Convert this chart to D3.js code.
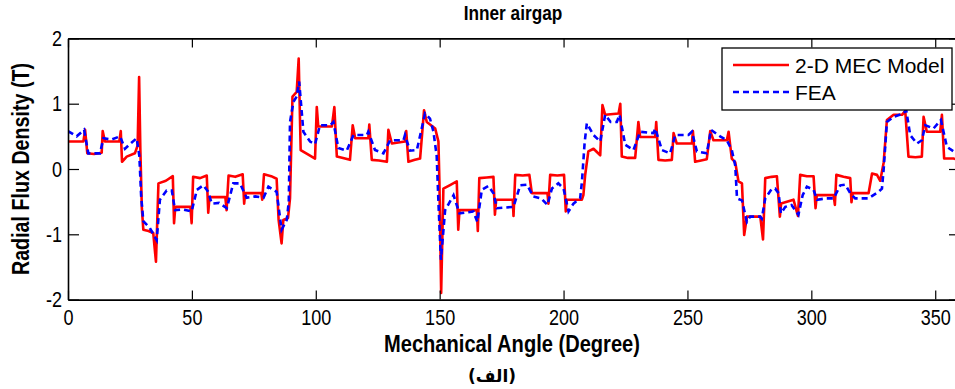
<!DOCTYPE html>
<html>
<head>
<meta charset="utf-8">
<script src="https://cdn.jsdelivr.net/npm/d3@7/dist/d3.min.js"></script>
<style>
  html, body { margin: 0; padding: 0; background: #fff; }
  svg { display: block; }
  .narrow { font-family: "Liberation Sans", Arial, sans-serif; }
</style>
</head>
<body>
<svg id="chart" width="955" height="389"></svg>
<script>
// Radial flux density along the inner airgap: analytical MEC model vs. FEA
const mecAngle = [0, 6.2, 6.9, 7.8, 10.5, 13.6, 14.0, 14.9, 20.7, 21.3, 21.8, 23.7, 27.0, 28.1, 28.7, 29.2, 29.8, 30.4, 32.5, 34.4, 35.5, 36.5, 39.5, 42.3, 42.8, 43.3, 49.4, 49.9, 50.5, 53.3, 56.0, 56.6, 57.1, 63.5, 64.0, 64.8, 67.5, 70.5, 71.1, 71.5, 78.0, 78.4, 79.1, 82.0, 84.2, 85.0, 86.2, 86.9, 88.8, 89.6, 90.6, 92.3, 93.1, 93.9, 97.0, 99.7, 100.4, 101.0, 106.5, 107.5, 108.5, 111.0, 113.8, 114.9, 115.9, 121.2, 121.6, 122.6, 125.5, 128.7, 129.3, 130.7, 136.0, 136.5, 137.4, 140.0, 142.1, 143.7, 144.8, 148.2, 149.5, 149.9, 150.6, 151.5, 154.0, 156.9, 157.5, 158.0, 165.0, 165.4, 166.0, 169.0, 171.7, 172.3, 172.8, 179.5, 179.8, 180.5, 183.5, 186.2, 187.2, 193.5, 193.9, 194.6, 197.5, 200.2, 200.9, 201.3, 207.4, 208.0, 208.7, 210.0, 212.1, 214.8, 215.7, 216.8, 222.2, 222.9, 223.5, 226.0, 228.9, 230.2, 230.9, 237.0, 237.4, 238.3, 241.0, 243.7, 244.4, 245.7, 251.8, 252.2, 253.1, 255.5, 257.8, 259.2, 260.5, 265.9, 266.6, 267.9, 269.3, 270.6, 272.0, 272.9, 274.0, 279.4, 280.5, 281.4, 284.0, 286.1, 287.3, 287.8, 292.8, 294.6, 295.5, 298.2, 300.9, 301.7, 302.2, 309.0, 309.5, 310.1, 313.0, 315.7, 316.2, 316.7, 323.1, 324.5, 326.5, 327.8, 329.2, 330.5, 333.2, 336.6, 337.9, 339.2, 342.0, 344.6, 345.3, 346.6, 352.0, 352.7, 353.6, 357.4, 360];
const mecFlux = [0.42, 0.42, 0.60, 0.24, 0.23, 0.25, 0.58, 0.42, 0.42, 0.58, 0.11, 0.19, 0.24, 0.36, 1.41, 0.30, -0.60, -0.93, -0.95, -0.98, -1.42, -0.22, -0.18, -0.11, -0.83, -0.58, -0.58, -0.83, -0.12, -0.14, -0.10, -0.67, -0.43, -0.43, -0.63, -0.10, -0.12, -0.08, -0.53, -0.37, -0.37, -0.47, -0.08, -0.11, -0.15, -0.78, -1.14, -0.78, -0.75, -0.45, 1.11, 1.18, 1.69, 0.29, 0.22, 0.16, 0.95, 0.65, 0.65, 0.95, 0.19, 0.17, 0.14, 0.67, 0.47, 0.47, 0.68, 0.14, 0.13, 0.11, 0.60, 0.39, 0.42, 0.58, 0.11, 0.14, 0.16, 0.90, 0.72, 0.62, 0.42, -0.20, -1.90, -0.30, -0.25, -0.19, -0.93, -0.63, -0.63, -0.95, -0.14, -0.13, -0.12, -0.70, -0.47, -0.47, -0.72, -0.09, -0.10, -0.09, -0.37, -0.37, -0.53, -0.09, -0.10, -0.09, -0.65, -0.47, -0.47, -0.40, -0.10, 0.27, 0.31, 0.21, 0.98, 0.83, 0.85, 1.00, 0.19, 0.17, 0.17, 0.72, 0.49, 0.49, 0.72, 0.14, 0.13, 0.14, 0.55, 0.39, 0.39, 0.58, 0.11, 0.13, 0.15, 0.58, 0.44, 0.44, 0.57, 0.16, 0.10, -0.19, -0.22, -1.01, -0.73, -0.73, -1.08, -0.14, -0.12, -0.11, -0.73, -0.53, -0.47, -0.72, -0.09, -0.11, -0.11, -0.60, -0.40, -0.40, -0.55, -0.09, -0.12, -0.14, -0.51, -0.37, -0.37, -0.07, -0.09, -0.18, 0.10, 0.75, 0.83, 0.83, 0.89, 0.19, 0.18, 0.19, 0.80, 0.57, 0.57, 0.83, 0.16, 0.16, 0.13];

const feaAngle = [0, 3.5, 6.5, 8.2, 12.9, 14.3, 17.5, 21.0, 23.0, 25.5, 27.7, 28.8, 29.5, 30.4, 33.0, 35.8, 37.1, 39.8, 41.9, 43.2, 46.5, 49.9, 52.0, 54.6, 56.6, 58.0, 61.0, 64.1, 66.7, 69.4, 72.1, 75.5, 78.9, 80.9, 84.2, 86.2, 88.3, 89.1, 89.6, 91.0, 92.3, 93.3, 95.0, 97.7, 99.7, 101.7, 105.8, 107.1, 109.1, 112.5, 115.2, 120.6, 121.2, 123.9, 127.3, 130.0, 135.4, 136.0, 138.0, 140.8, 144.1, 146.1, 147.5, 148.8, 149.6, 150.5, 152.2, 155.6, 158.0, 163.6, 165.2, 167.0, 169.7, 171.7, 173.1, 179.8, 182.5, 185.2, 187.8, 191.0, 193.5, 195.3, 197.9, 200.0, 202.0, 204.0, 206.7, 207.4, 208.5, 209.4, 212.1, 214.8, 216.8, 219.0, 221.5, 222.6, 224.9, 228.2, 230.9, 236.3, 237.0, 239.7, 243.0, 245.1, 250.4, 251.8, 253.8, 257.8, 259.5, 263.2, 265.9, 267.9, 269.3, 270.0, 272.0, 274.0, 275.3, 279.4, 280.0, 281.4, 284.1, 285.4, 286.8, 287.7, 289.5, 292.0, 294.8, 296.5, 298.2, 300.9, 302.3, 306.0, 309.0, 311.7, 313.7, 315.7, 317.7, 323.1, 327.1, 328.5, 329.2, 330.5, 333.2, 337.2, 338.3, 339.9, 342.6, 344.6, 346.0, 349.3, 352.3, 354.7, 357.4, 360];
const feaFlux = [0.58, 0.50, 0.60, 0.24, 0.24, 0.47, 0.45, 0.50, 0.31, 0.40, 0.47, 0.20, -0.40, -0.80, -0.90, -1.09, -0.47, -0.33, -0.33, -0.63, -0.62, -0.65, -0.32, -0.25, -0.35, -0.53, -0.52, -0.60, -0.22, -0.22, -0.44, -0.42, -0.44, -0.27, -0.35, -0.93, -0.78, -0.50, 0.72, 1.03, 1.11, 1.34, 0.57, 0.42, 0.38, 0.67, 0.67, 0.72, 0.32, 0.28, 0.52, 0.52, 0.57, 0.29, 0.24, 0.44, 0.44, 0.52, 0.28, 0.29, 0.85, 0.77, 0.57, 0.20, -0.60, -1.39, -0.63, -0.40, -0.68, -0.65, -0.81, -0.32, -0.26, -0.37, -0.60, -0.58, -0.25, -0.24, -0.42, -0.45, -0.55, -0.30, -0.22, -0.30, -0.65, -0.53, -0.45, -0.20, 0.40, 0.70, 0.52, 0.42, 0.83, 0.72, 0.72, 0.83, 0.37, 0.29, 0.57, 0.55, 0.62, 0.29, 0.24, 0.52, 0.52, 0.57, 0.27, 0.24, 0.60, 0.50, 0.44, 0.29, 0.05, -0.45, -0.48, -0.81, -0.73, -0.73, -0.76, -0.45, -0.30, -0.30, -0.37, -0.68, -0.58, -0.55, -0.70, -0.40, -0.27, -0.32, -0.47, -0.45, -0.45, -0.25, -0.24, -0.37, -0.45, -0.45, -0.35, -0.30, 0.00, 0.72, 0.80, 0.85, 0.90, 0.52, 0.39, 0.44, 0.67, 0.62, 0.75, 0.34, 0.27, 0.25];

const seriesNames = ["2-D MEC Model", "FEA"];
const xTicks = [0, 50, 100, 150, 200, 250, 300, 350];
const yTicks = [-2, -1, 0, 1, 2];

const svg = d3.select("#chart");
const plotLeft = 68, plotRight = 960, plotTop = 38.4, plotBottom = 299.6;

const x = d3.scaleLinear().domain([0, 360]).range([plotLeft, plotRight]);
const y = d3.scaleLinear().domain([-2, 2]).range([plotBottom, plotTop]);

svg.append("defs").append("clipPath").attr("id", "plotClip")
  .append("rect").attr("x", plotLeft).attr("y", plotTop)
  .attr("width", plotRight - plotLeft).attr("height", plotBottom - plotTop);

// series
const line = d3.line().x(d => x(d[0])).y(d => y(d[1]));
const mecPts = mecAngle.map((a, i) => [a, mecFlux[i]]);
const feaPts = feaAngle.map((a, i) => [a, feaFlux[i]]);

const plot = svg.append("g").attr("clip-path", "url(#plotClip)");
plot.append("path").datum(mecPts).attr("d", line)
  .attr("fill", "none").attr("stroke", "#ff0000").attr("stroke-width", 2.6)
  .attr("stroke-linejoin", "round");
plot.append("path").datum(feaPts).attr("d", line)
  .attr("fill", "none").attr("stroke", "#0000ff").attr("stroke-width", 2.6)
  .attr("stroke-dasharray", "6,4");

// axes with inward ticks on all four sides
const intFmt = v => (v < 0 ? "-" : "") + Math.abs(v);
function styleAxis(g) {
  g.attr("font-family", null).attr("font-size", null);
  g.selectAll("path.domain").attr("stroke", "#000").attr("stroke-width", 1.6).attr("fill", "none");
  g.selectAll(".tick line").attr("stroke", "#000").attr("stroke-width", 1.2);
  g.selectAll("text").attr("fill", "#000").attr("class", "narrow").attr("font-size", 22);
}
svg.append("g").attr("transform", `translate(0,${plotBottom})`)
  .call(d3.axisBottom(x).tickValues(xTicks).tickFormat(intFmt)
    .tickSizeInner(-9).tickSizeOuter(0).tickPadding(10))
  .call(styleAxis);
svg.append("g").attr("transform", `translate(0,${plotTop})`)
  .call(d3.axisTop(x).tickValues(xTicks).tickSizeInner(-9).tickSizeOuter(0).tickFormat(""))
  .call(styleAxis);
svg.append("g").attr("transform", `translate(${plotLeft},0)`)
  .call(d3.axisLeft(y).tickValues(yTicks).tickFormat(intFmt)
    .tickSizeInner(-11).tickSizeOuter(0).tickPadding(6))
  .call(styleAxis);
svg.append("g").attr("transform", `translate(${plotRight},0)`)
  .call(d3.axisRight(y).tickValues(yTicks).tickSizeInner(-11).tickSizeOuter(0).tickFormat(""))
  .call(styleAxis);

// titles
svg.append("text").attr("class", "narrow").attr("x", 513).attr("y", 20)
  .attr("text-anchor", "middle").attr("font-weight", "bold").attr("font-size", 21)
  .text("Inner airgap");
svg.append("text").attr("class", "narrow").attr("x", 512).attr("y", 352)
  .attr("text-anchor", "middle").attr("font-weight", "bold").attr("font-size", 24.5)
  .text("Mechanical Angle (Degree)");
svg.append("text").attr("class", "narrow")
  .attr("transform", `translate(29,${(plotTop + plotBottom) / 2}) rotate(-90)`)
  .attr("text-anchor", "middle").attr("font-weight", "bold").attr("font-size", 24)
  .text("Radial Flux Density (T)");
svg.append("text").attr("x", 492).attr("y", 382)
  .attr("text-anchor", "middle").attr("font-weight", "bold").attr("font-size", 17)
  .attr("font-family", "'DejaVu Sans', 'Noto Sans', sans-serif")
  .attr("direction", "rtl")
  .text("(الف)");

// condensed labels: squeeze each label horizontally about its anchor point
svg.selectAll("text.narrow").each(function () {
  const el = d3.select(this);
  const ax = +(el.attr("x") || 0);
  const prev = el.attr("transform") || "";
  el.attr("transform", `${prev} translate(${ax},0) scale(0.82,1) translate(${-ax},0)`.trim());
});

// legend
const lg = svg.append("g");
lg.append("rect").attr("x", 722).attr("y", 48).attr("width", 230).attr("height", 62)
  .attr("fill", "#fff").attr("stroke", "#000").attr("stroke-width", 1.3);
const legendStyles = [
  { color: "#ff0000", dash: null, y: 65 },
  { color: "#0000ff", dash: "6,4", y: 92 }
];
seriesNames.forEach((name, i) => {
  const s = legendStyles[i];
  lg.append("line").attr("x1", 733).attr("x2", 789).attr("y1", s.y).attr("y2", s.y)
    .attr("stroke", s.color).attr("stroke-width", 2.6)
    .attr("stroke-dasharray", s.dash);
  lg.append("text").attr("x", 795).attr("y", s.y + 8)
    .attr("font-family", "'Liberation Sans', Arial, sans-serif").attr("font-size", 21)
    .text(name);
});
</script>
</body>
</html>
